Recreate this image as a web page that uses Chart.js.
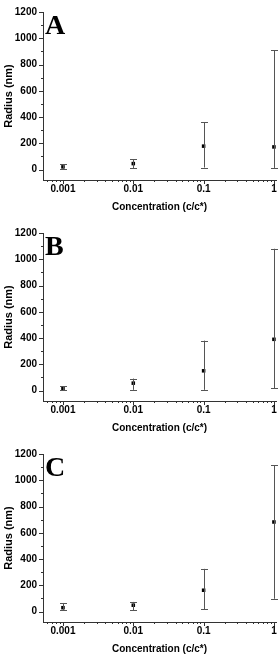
<!DOCTYPE html>
<html>
<head>
<meta charset="utf-8">
<script src="https://cdn.jsdelivr.net/npm/chart.js@4.4.1/dist/chart.umd.min.js"></script>
<style>
  html, body { margin: 0; padding: 0; background: #fff; }
  .panel { position: absolute; left: 0; width: 280px; height: 220px; }
</style>
</head>
<body>
<div class="panel" style="top:0px"><canvas id="chartA"></canvas></div>
<div class="panel" style="top:221px"><canvas id="chartB"></canvas></div>
<div class="panel" style="top:442px"><canvas id="chartC"></canvas></div>
<script>
// ─── DATA ─────────────────────────────────────────────────────
const concentrations = [0.001, 0.01, 0.1, 1];
const xTickLabels    = [0.001, 0.01, 0.1, 1];
const yTickValues    = [0, 100, 200, 300, 400, 500, 600, 700, 800, 900, 1000, 1100, 1200];
const yTickLabels    = [0, 200, 400, 600, 800, 1000, 1200];

const radiusA = [20, 45, 178, 172];
const lowA    = [5, 8, 15, 12];
const highA   = [42, 78, 360, 910];

const radiusB = [17, 56, 150, 390];
const lowB    = [3, 5, 5, 17];
const highB   = [34, 91, 380, 1080];

const radiusC = [29, 48, 162, 682];
const lowC    = [12, 10, 18, 97];
const highC   = [65, 73, 325, 1115];

// ─── PLUGINS ──────────────────────────────────────────────────
// error bars: vertical line + caps, positioned with the chart's scales
const errorBarPlugin = {
    id: 'errorBars',
    afterDatasetsDraw(chart, args, opts) {
        const { ctx, scales: { x, y } } = chart;
        ctx.save();
        ctx.strokeStyle = '#555';
        ctx.lineWidth = 1;
        opts.x.forEach((xv, i) => {
            const px = Math.round(x.getPixelForValue(xv)) + 0.5;
            const top = y.getPixelForValue(opts.high[i]);
            const bot = y.getPixelForValue(opts.low[i]);
            ctx.beginPath();
            ctx.moveTo(px, top); ctx.lineTo(px, bot);
            ctx.moveTo(px - 3.5, Math.round(top) + 0.5); ctx.lineTo(px + 3.5, Math.round(top) + 0.5);
            ctx.moveTo(px - 3.5, Math.round(bot) + 0.5); ctx.lineTo(px + 3.5, Math.round(bot) + 0.5);
            ctx.stroke();
        });
        ctx.restore();
    }
};

// outward tick marks, long for labelled ticks, short for minor ones
const tickMarkPlugin = {
    id: 'tickMarks',
    afterDraw(chart) {
        const { ctx, chartArea, scales: { x, y } } = chart;
        ctx.save();
        ctx.strokeStyle = '#333';
        ctx.lineWidth = 1;
        ctx.beginPath();
        x.ticks.forEach(t => {
            const px = Math.round(x.getPixelForValue(t.value)) + 0.5;
            const len = xTickLabels.includes(t.value) ? 4 : 2;
            ctx.moveTo(px, chartArea.bottom); ctx.lineTo(px, chartArea.bottom + len);
        });
        y.ticks.forEach(t => {
            const py = Math.round(y.getPixelForValue(t.value)) + 0.5;
            const len = yTickLabels.includes(t.value) ? 4 : 2;
            ctx.moveTo(chartArea.left, py); ctx.lineTo(chartArea.left - len, py);
        });
        ctx.stroke();
        ctx.restore();
    }
};

// big serif panel letter in the top-left corner of the plot
const panelLetterPlugin = {
    id: 'panelLetter',
    afterDraw(chart, args, opts) {
        const { ctx, chartArea } = chart;
        ctx.save();
        ctx.fillStyle = '#000';
        ctx.font = 'bold 28px "Liberation Serif", "Times New Roman", serif';
        ctx.textBaseline = 'alphabetic';
        ctx.fillText(opts.text, chartArea.left + 2, chartArea.top + 22);
        ctx.restore();
    }
};

// ─── CHARTS ───────────────────────────────────────────────────
// 1..9 x 10^e tick positions for the log axis (minor + major)
function logTicks(min, max) {
    const out = [];
    for (let e = -4; e <= 0; e++) {
        for (let m = 1; m <= 9; m++) {
            const v = +(m * Math.pow(10, e)).toPrecision(6);
            if (v >= min && v <= max) out.push({ value: v });
        }
    }
    return out;
}

function makePanel(id, letter, radius, low, high) {
    const tickFont = { family: 'Arial, "Liberation Sans"', size: 10, weight: 'bold' };
    return new Chart(document.getElementById(id), {
        type: 'scatter',
        data: {
            datasets: [{
                data: concentrations.map((c, i) => ({ x: c, y: radius[i] })),
                pointStyle: 'rect',
                pointRadius: 2.5,
                backgroundColor: '#000',
                borderColor: '#000',
                borderWidth: 0
            }]
        },
        options: {
            responsive: true,
            maintainAspectRatio: false,
            animation: false,
            events: [],
            layout: { padding: { top: 5, right: 2, left: 0, bottom: 0 } },
            plugins: {
                legend: { display: false },
                tooltip: { enabled: false },
                errorBars: { x: concentrations, low: low, high: high },
                panelLetter: { text: letter }
            },
            scales: {
                x: {
                    type: 'logarithmic',
                    min: 0.00052,
                    max: 1.07,
                    afterBuildTicks: s => { s.ticks = logTicks(0.00052, 1.07); },
                    afterFit: s => { s.height = 40; },
                    border: { display: true, color: '#333', width: 1 },
                    grid: { display: true, drawOnChartArea: false, drawTicks: false },
                    ticks: {
                        autoSkip: false,
                        maxRotation: 0,
                        padding: 3,
                        color: '#000',
                        font: tickFont,
                        callback: v => xTickLabels.includes(v) ? String(v) : ''
                    },
                    title: {
                        display: true,
                        text: 'Concentration (c/c*)',
                        color: '#000',
                        font: { family: 'Arial, "Liberation Sans"', size: 10, weight: 'bold' },
                        padding: { top: 0, bottom: 7 }
                    }
                },
                y: {
                    min: -80,
                    max: 1200,
                    afterBuildTicks: s => { s.ticks = yTickValues.map(v => ({ value: v })); },
                    afterFit: s => { s.width = 43; },
                    border: { display: true, color: '#333', width: 1 },
                    grid: { display: true, drawOnChartArea: false, drawTicks: false },
                    ticks: {
                        autoSkip: false,
                        padding: 6,
                        color: '#000',
                        font: tickFont,
                        callback: v => yTickLabels.includes(v) ? String(v) : ''
                    },
                    title: {
                        display: true,
                        text: 'Radius (nm)',
                        color: '#000',
                        font: { family: 'Arial, "Liberation Sans"', size: 11, weight: 'bold' },
                        padding: { top: 2, bottom: 2 }
                    }
                }
            }
        },
        plugins: [errorBarPlugin, tickMarkPlugin, panelLetterPlugin]
    });
}

makePanel('chartA', 'A', radiusA, lowA, highA);
makePanel('chartB', 'B', radiusB, lowB, highB);
makePanel('chartC', 'C', radiusC, lowC, highC);
</script>
</body>
</html>
